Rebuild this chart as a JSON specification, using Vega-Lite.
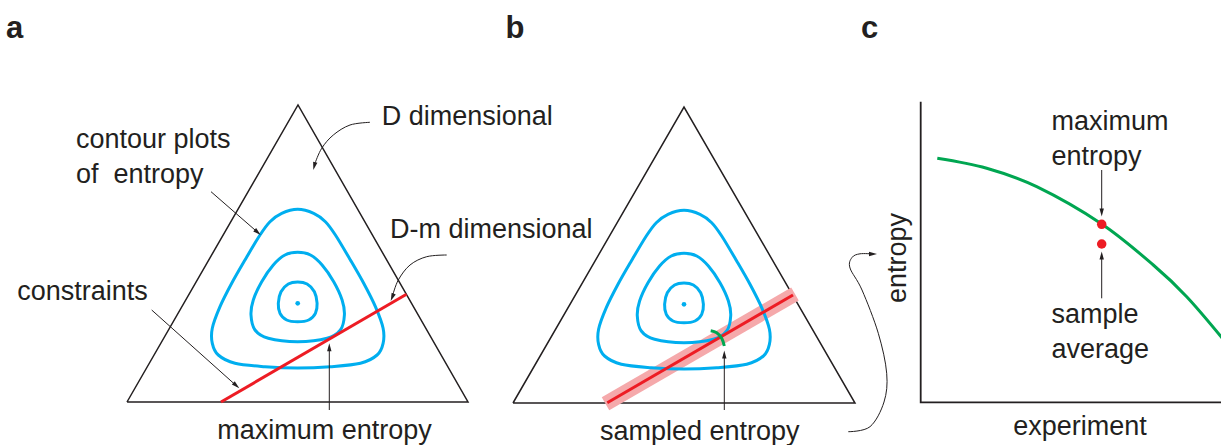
{
  "$schema": "https://vega.github.io/schema/vega-lite/v6.json",
  "width": 1221,
  "height": 445,
  "padding": 0,
  "autosize": {"type": "none"},
  "background": "white",
  "config": {"view": {"stroke": null}},
  "datasets": {
    "tri": [
      {"id": "a", "i": 0, "x": 127, "y": 402}, {"id": "a", "i": 1, "x": 298, "y": 105}, {"id": "a", "i": 2, "x": 468, "y": 402}, {"id": "a", "i": 3, "x": 127, "y": 402},
      {"id": "b", "i": 0, "x": 513, "y": 403}, {"id": "b", "i": 1, "x": 684, "y": 107}, {"id": "b", "i": 2, "x": 855, "y": 403}, {"id": "b", "i": 3, "x": 513, "y": 403}
    ],
    "axes": [
      {"id": "c", "i": 0, "x": 920.7, "y": 101.7}, {"id": "c", "i": 1, "x": 920.7, "y": 402.3}, {"id": "c", "i": 2, "x": 1222, "y": 402.3}
    ],
    "band": [
      {"id": "b", "i": 0, "x": 605.5, "y": 403.8}, {"id": "b", "i": 1, "x": 795, "y": 294}
    ],
    "contours": [
      {"id": "ao", "i": 0, "x": 297.7, "y": 209.3}, {"id": "ao", "i": 1, "x": 313.7, "y": 213.3}, {"id": "ao", "i": 2, "x": 325.4, "y": 221.7}, {"id": "ao", "i": 3, "x": 335.4, "y": 235}, {"id": "ao", "i": 4, "x": 350.4, "y": 260}, {"id": "ao", "i": 5, "x": 363.7, "y": 283.3}, {"id": "ao", "i": 6, "x": 375.4, "y": 306.7}, {"id": "ao", "i": 7, "x": 383.1, "y": 328.3}, {"id": "ao", "i": 8, "x": 383.1, "y": 343.3}, {"id": "ao", "i": 9, "x": 377.1, "y": 355}, {"id": "ao", "i": 10, "x": 360.4, "y": 363.3}, {"id": "ao", "i": 11, "x": 330.4, "y": 366.7}, {"id": "ao", "i": 12, "x": 297.7, "y": 368}, {"id": "ao", "i": 13, "x": 265, "y": 366.7}, {"id": "ao", "i": 14, "x": 235, "y": 363.3}, {"id": "ao", "i": 15, "x": 218.3, "y": 355}, {"id": "ao", "i": 16, "x": 212.3, "y": 343.3}, {"id": "ao", "i": 17, "x": 212.3, "y": 328.3}, {"id": "ao", "i": 18, "x": 220, "y": 306.7}, {"id": "ao", "i": 19, "x": 231.7, "y": 283.3}, {"id": "ao", "i": 20, "x": 245, "y": 260}, {"id": "ao", "i": 21, "x": 260, "y": 235}, {"id": "ao", "i": 22, "x": 270, "y": 221.7}, {"id": "ao", "i": 23, "x": 281.7, "y": 213.3},
      {"id": "am", "i": 0, "x": 297.7, "y": 252.3}, {"id": "am", "i": 1, "x": 310.4, "y": 255}, {"id": "am", "i": 2, "x": 322.1, "y": 265}, {"id": "am", "i": 3, "x": 333.7, "y": 281.7}, {"id": "am", "i": 4, "x": 342.1, "y": 300}, {"id": "am", "i": 5, "x": 344.4, "y": 315}, {"id": "am", "i": 6, "x": 340.4, "y": 330}, {"id": "am", "i": 7, "x": 327.1, "y": 338.3}, {"id": "am", "i": 8, "x": 297.7, "y": 341.7}, {"id": "am", "i": 9, "x": 268.3, "y": 338.3}, {"id": "am", "i": 10, "x": 255, "y": 330}, {"id": "am", "i": 11, "x": 251, "y": 315}, {"id": "am", "i": 12, "x": 253.3, "y": 300}, {"id": "am", "i": 13, "x": 261.7, "y": 281.7}, {"id": "am", "i": 14, "x": 273.3, "y": 265}, {"id": "am", "i": 15, "x": 285, "y": 255},
      {"id": "ai", "i": 0, "x": 297.7, "y": 282}, {"id": "ai", "i": 1, "x": 307.1, "y": 284}, {"id": "ai", "i": 2, "x": 314.4, "y": 291.7}, {"id": "ai", "i": 3, "x": 317.1, "y": 303.3}, {"id": "ai", "i": 4, "x": 315.4, "y": 313.3}, {"id": "ai", "i": 5, "x": 308.7, "y": 320}, {"id": "ai", "i": 6, "x": 297.7, "y": 321.7}, {"id": "ai", "i": 7, "x": 286.7, "y": 320}, {"id": "ai", "i": 8, "x": 280, "y": 313.3}, {"id": "ai", "i": 9, "x": 278.3, "y": 303.3}, {"id": "ai", "i": 10, "x": 281, "y": 291.7}, {"id": "ai", "i": 11, "x": 288.3, "y": 284},
      {"id": "bo", "i": 0, "x": 684, "y": 210.3}, {"id": "bo", "i": 1, "x": 700, "y": 214.3}, {"id": "bo", "i": 2, "x": 711.7, "y": 222.7}, {"id": "bo", "i": 3, "x": 721.7, "y": 236}, {"id": "bo", "i": 4, "x": 736.7, "y": 261}, {"id": "bo", "i": 5, "x": 750, "y": 284.3}, {"id": "bo", "i": 6, "x": 761.7, "y": 307.7}, {"id": "bo", "i": 7, "x": 769.4, "y": 329.3}, {"id": "bo", "i": 8, "x": 769.4, "y": 344.3}, {"id": "bo", "i": 9, "x": 763.4, "y": 356}, {"id": "bo", "i": 10, "x": 746.7, "y": 364.3}, {"id": "bo", "i": 11, "x": 716.7, "y": 367.7}, {"id": "bo", "i": 12, "x": 684, "y": 369}, {"id": "bo", "i": 13, "x": 651.3, "y": 367.7}, {"id": "bo", "i": 14, "x": 621.3, "y": 364.3}, {"id": "bo", "i": 15, "x": 604.6, "y": 356}, {"id": "bo", "i": 16, "x": 598.6, "y": 344.3}, {"id": "bo", "i": 17, "x": 598.6, "y": 329.3}, {"id": "bo", "i": 18, "x": 606.3, "y": 307.7}, {"id": "bo", "i": 19, "x": 618, "y": 284.3}, {"id": "bo", "i": 20, "x": 631.3, "y": 261}, {"id": "bo", "i": 21, "x": 646.3, "y": 236}, {"id": "bo", "i": 22, "x": 656.3, "y": 222.7}, {"id": "bo", "i": 23, "x": 668, "y": 214.3},
      {"id": "bm", "i": 0, "x": 684, "y": 253.3}, {"id": "bm", "i": 1, "x": 696.7, "y": 256}, {"id": "bm", "i": 2, "x": 708.4, "y": 266}, {"id": "bm", "i": 3, "x": 720, "y": 282.7}, {"id": "bm", "i": 4, "x": 728.4, "y": 301}, {"id": "bm", "i": 5, "x": 730.7, "y": 316}, {"id": "bm", "i": 6, "x": 726.7, "y": 331}, {"id": "bm", "i": 7, "x": 713.4, "y": 339.3}, {"id": "bm", "i": 8, "x": 684, "y": 342.7}, {"id": "bm", "i": 9, "x": 654.6, "y": 339.3}, {"id": "bm", "i": 10, "x": 641.3, "y": 331}, {"id": "bm", "i": 11, "x": 637.3, "y": 316}, {"id": "bm", "i": 12, "x": 639.6, "y": 301}, {"id": "bm", "i": 13, "x": 648, "y": 282.7}, {"id": "bm", "i": 14, "x": 659.6, "y": 266}, {"id": "bm", "i": 15, "x": 671.3, "y": 256},
      {"id": "bi", "i": 0, "x": 684, "y": 283}, {"id": "bi", "i": 1, "x": 693.4, "y": 285}, {"id": "bi", "i": 2, "x": 700.7, "y": 292.7}, {"id": "bi", "i": 3, "x": 703.4, "y": 304.3}, {"id": "bi", "i": 4, "x": 701.7, "y": 314.3}, {"id": "bi", "i": 5, "x": 695, "y": 321}, {"id": "bi", "i": 6, "x": 684, "y": 322.7}, {"id": "bi", "i": 7, "x": 673, "y": 321}, {"id": "bi", "i": 8, "x": 666.3, "y": 314.3}, {"id": "bi", "i": 9, "x": 664.6, "y": 304.3}, {"id": "bi", "i": 10, "x": 667.3, "y": 292.7}, {"id": "bi", "i": 11, "x": 674.6, "y": 285}
    ],
    "centers": [
      {"x": 297.7, "y": 303.3}, {"x": 684, "y": 304.3}
    ],
    "redlines": [
      {"id": "a", "i": 0, "x": 221, "y": 402}, {"id": "a", "i": 1, "x": 406.5, "y": 294.3},
      {"id": "b", "i": 0, "x": 607.3, "y": 402.7}, {"id": "b", "i": 1, "x": 793, "y": 295}
    ],
    "green": [
      {"id": "arc", "i": 0, "x": 710.7, "y": 330.7}, {"id": "arc", "i": 1, "x": 716.7, "y": 332.7}, {"id": "arc", "i": 2, "x": 721.7, "y": 338.3}, {"id": "arc", "i": 3, "x": 724.3, "y": 346},
      {"id": "curve", "i": 0, "x": 937.3, "y": 158.3}, {"id": "curve", "i": 1, "x": 986.7, "y": 168.3}, {"id": "curve", "i": 2, "x": 1036.7, "y": 186.7}, {"id": "curve", "i": 3, "x": 1101.7, "y": 224}, {"id": "curve", "i": 4, "x": 1153.3, "y": 265}, {"id": "curve", "i": 5, "x": 1186.7, "y": 296.7}, {"id": "curve", "i": 6, "x": 1223, "y": 339}
    ],
    "reddots": [
      {"x": 1101.7, "y": 224.3}, {"x": 1101.7, "y": 244}
    ],
    "shafts": [
      {"id": "amax", "i": 0, "x": 329.3, "y": 410}, {"id": "amax", "i": 1, "x": 329.3, "y": 347},
      {"id": "cons", "i": 0, "x": 151.7, "y": 310}, {"id": "cons", "i": 1, "x": 237, "y": 386.3},
      {"id": "cont", "i": 0, "x": 211, "y": 191.7}, {"id": "cont", "i": 1, "x": 258, "y": 232.6},
      {"id": "bsam", "i": 0, "x": 724.3, "y": 410}, {"id": "bsam", "i": 1, "x": 724.3, "y": 354},
      {"id": "cmax", "i": 0, "x": 1101.7, "y": 170}, {"id": "cmax", "i": 1, "x": 1101.7, "y": 212},
      {"id": "csam", "i": 0, "x": 1101.7, "y": 298.3}, {"id": "csam", "i": 1, "x": 1101.7, "y": 256}
    ],
    "curves": [
      {"id": "dd", "i": 0, "x": 370, "y": 122.3}, {"id": "dd", "i": 1, "x": 350, "y": 125}, {"id": "dd", "i": 2, "x": 333.3, "y": 135}, {"id": "dd", "i": 3, "x": 321.7, "y": 148.3}, {"id": "dd", "i": 4, "x": 315, "y": 163.3},
      {"id": "dm", "i": 0, "x": 446.7, "y": 255}, {"id": "dm", "i": 1, "x": 426.7, "y": 256.7}, {"id": "dm", "i": 2, "x": 410, "y": 265}, {"id": "dm", "i": 3, "x": 398.3, "y": 280}, {"id": "dm", "i": 4, "x": 392.5, "y": 296},
      {"id": "bc", "i": 0, "x": 848.3, "y": 431.7}, {"id": "bc", "i": 1, "x": 870, "y": 426.7}, {"id": "bc", "i": 2, "x": 884, "y": 402}, {"id": "bc", "i": 3, "x": 886.7, "y": 373.3}, {"id": "bc", "i": 4, "x": 878.3, "y": 333.3}, {"id": "bc", "i": 5, "x": 862, "y": 290}, {"id": "bc", "i": 6, "x": 850, "y": 268}, {"id": "bc", "i": 7, "x": 852, "y": 257.5}, {"id": "bc", "i": 8, "x": 860, "y": 253.8}, {"id": "bc", "i": 9, "x": 873, "y": 254}
    ],
    "heads": [
      {"x": 329.3, "y": 347.3, "angle": 0},
      {"x": 236.3, "y": 385.6, "angle": 131.8},
      {"x": 257.7, "y": 232.4, "angle": 131.1},
      {"x": 314.3, "y": 166.1, "angle": 194},
      {"x": 392.2, "y": 297.3, "angle": 202},
      {"x": 724.3, "y": 354.5, "angle": 0},
      {"x": 873, "y": 254, "angle": 90},
      {"x": 1101.7, "y": 212.5, "angle": 180},
      {"x": 1101.7, "y": 255.5, "angle": 0}
    ],
    "labels": [
      {"t": "D dimensional", "x": 381.7, "y": 125},
      {"t": "contour plots", "x": 76, "y": 148.3},
      {"t": "of\u00a0\u00a0entropy", "x": 76, "y": 183.3},
      {"t": "D-m dimensional", "x": 390, "y": 238.3},
      {"t": "constraints", "x": 17.3, "y": 300},
      {"t": "maximum entropy", "x": 217.3, "y": 439.3},
      {"t": "sampled entropy", "x": 600, "y": 440},
      {"t": "maximum", "x": 1051.5, "y": 130},
      {"t": "entropy", "x": 1051.5, "y": 165},
      {"t": "sample", "x": 1051.5, "y": 322.7},
      {"t": "average", "x": 1051.5, "y": 358.3},
      {"t": "experiment", "x": 1013.3, "y": 435}
    ],
    "ylab": [
      {"t": "entropy", "x": 906, "y": 258}
    ],
    "panels": [
      {"t": "a", "x": 6, "y": 37.7},
      {"t": "b", "x": 505.5, "y": 37.7},
      {"t": "c", "x": 861, "y": 37.7}
    ]
  },
  "encoding": {
    "x": {"field": "x", "type": "quantitative", "axis": null, "scale": {"domain": [0, 1221], "nice": false, "zero": false}},
    "y": {"field": "y", "type": "quantitative", "axis": null, "scale": {"domain": [0, 445], "nice": false, "zero": false, "reverse": true}}
  },
  "layer": [
    {
      "data": {"name": "tri"},
      "mark": {"type": "line", "stroke": "#231f20", "strokeWidth": 1.5, "strokeJoin": "miter"},
      "encoding": {"detail": {"field": "id"}, "order": {"field": "i", "type": "quantitative"}}
    },
    {
      "data": {"name": "axes"},
      "mark": {"type": "line", "stroke": "#231f20", "strokeWidth": 1.8, "strokeJoin": "miter"},
      "encoding": {"detail": {"field": "id"}, "order": {"field": "i", "type": "quantitative"}}
    },
    {
      "data": {"name": "band"},
      "mark": {"type": "line", "stroke": "#f5a9ab", "strokeWidth": 15, "strokeCap": "butt"},
      "encoding": {"detail": {"field": "id"}, "order": {"field": "i", "type": "quantitative"}}
    },
    {
      "data": {"name": "contours"},
      "mark": {"type": "line", "stroke": "#00aeef", "strokeWidth": 3, "interpolate": "cardinal-closed"},
      "encoding": {"detail": {"field": "id"}, "order": {"field": "i", "type": "quantitative"}}
    },
    {
      "data": {"name": "centers"},
      "mark": {"type": "point", "shape": "circle", "filled": true, "fill": "#00aeef", "size": 22, "opacity": 1, "strokeWidth": 0}
    },
    {
      "data": {"name": "redlines"},
      "mark": {"type": "line", "stroke": "#ed1c24", "strokeWidth": 3, "strokeCap": "butt"},
      "encoding": {"detail": {"field": "id"}, "order": {"field": "i", "type": "quantitative"}}
    },
    {
      "data": {"name": "green"},
      "mark": {"type": "line", "stroke": "#00a651", "strokeWidth": 3, "interpolate": "cardinal"},
      "encoding": {"detail": {"field": "id"}, "order": {"field": "i", "type": "quantitative"}}
    },
    {
      "data": {"name": "reddots"},
      "mark": {"type": "point", "shape": "circle", "filled": true, "fill": "#ed1c24", "size": 90, "opacity": 1, "strokeWidth": 0}
    },
    {
      "data": {"name": "shafts"},
      "mark": {"type": "line", "stroke": "#231f20", "strokeWidth": 1},
      "encoding": {"detail": {"field": "id"}, "order": {"field": "i", "type": "quantitative"}}
    },
    {
      "data": {"name": "curves"},
      "mark": {"type": "line", "stroke": "#231f20", "strokeWidth": 1, "interpolate": "cardinal"},
      "encoding": {"detail": {"field": "id"}, "order": {"field": "i", "type": "quantitative"}}
    },
    {
      "data": {"name": "heads"},
      "mark": {"type": "point", "shape": "M0,-1L0.55,1L-0.55,1Z", "filled": true, "fill": "#231f20", "size": 64, "opacity": 1, "strokeWidth": 0},
      "encoding": {"angle": {"field": "angle", "type": "quantitative", "scale": null}}
    },
    {
      "data": {"name": "labels"},
      "mark": {"type": "text", "align": "left", "baseline": "alphabetic", "font": "Liberation Sans", "fontSize": 27, "fill": "#231f20"},
      "encoding": {"text": {"field": "t"}}
    },
    {
      "data": {"name": "ylab"},
      "mark": {"type": "text", "align": "center", "baseline": "alphabetic", "angle": 270, "font": "Liberation Sans", "fontSize": 27, "fill": "#231f20"},
      "encoding": {"text": {"field": "t"}}
    },
    {
      "data": {"name": "panels"},
      "mark": {"type": "text", "align": "left", "baseline": "alphabetic", "font": "Liberation Sans", "fontWeight": "bold", "fontSize": 31, "fill": "#231f20"},
      "encoding": {"text": {"field": "t"}}
    }
  ]
}
